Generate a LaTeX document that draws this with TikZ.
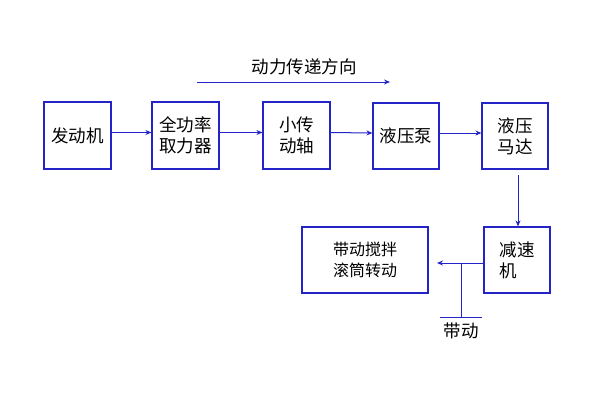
\documentclass[tikz,border=0pt]{standalone}
\usepackage{fontspec}
\newfontfamily\cjk{Noto Sans CJK SC}
\usetikzlibrary{arrows.meta}
\definecolor{lineblue}{RGB}{35,35,200}
\begin{document}
\begin{tikzpicture}[x=1pt,y=-1pt,
  box/.style={draw=lineblue,line width=1.2pt,inner sep=0pt,align=center,font=\cjk\fontsize{17.5}{21}\selectfont},
  conn/.style={draw=lineblue,line width=1pt,-{Stealth[length=6pt,width=5pt]}},
  plain/.style={draw=lineblue,line width=1pt}]
\useasboundingbox (0,0) rectangle (600,402);
\fill[white] (0,0) rectangle (600,402);
\node[box,minimum width=67pt,minimum height=67pt] (a) at (77.5,135.5) {发动机};
\node[box,minimum width=67pt,minimum height=67pt] (b) at (185.5,135.5) {全功率\\取力器};
\node[box,minimum width=67pt,minimum height=67pt] (c) at (296.5,135.5) {小传\\动轴};
\node[box,minimum width=66pt,minimum height=66pt] (d) at (406,136) {液压泵};
\node[box,minimum width=66pt,minimum height=66pt] (e) at (515,136) {液压\\马达};
\node[box,minimum width=66pt,minimum height=66pt,align=left] (f) at (517,260) {减速\\机\hspace*{17.5pt}};
\node[box,minimum width=126pt,minimum height=66pt,font=\cjk\fontsize{16}{21}\selectfont] (g) at (365,260) {带动搅拌\\滚筒转动};
\node[font=\cjk\fontsize{17.5}{21}\selectfont] (t) at (304,67) {动力传递方向};
\coordinate (t1) at (197,82);
\coordinate (t2) at (390,82);
\draw[conn] (t1) -- (t2);
\draw[conn] ([yshift=3pt]a.east) -- ([yshift=3pt]b.west);
\draw[conn] ([yshift=3pt]b.east) -- ([yshift=3pt]c.west);
\draw[conn] ([yshift=3pt]c.east) -- ([yshift=3pt]d.west);
\draw[conn] ([yshift=3pt]d.east) -- ([yshift=3pt]e.west);
\coordinate (e1) at (518,175);
\draw[conn] (e1) -- (f.north -| e1);
\coordinate (g1) at (437,263);
\draw[conn] (f.west |- g1) -- (g1);
\coordinate (j) at (461,263);
\coordinate (k) at (461,317);
\draw[plain] (j) -- (k);
\coordinate (k1) at (440,317);
\coordinate (k2) at (482,317);
\draw[plain] (k1) -- (k2);
\node[font=\cjk\fontsize{17.5}{21}\selectfont] (lbl) at (461,331) {带动};
\end{tikzpicture}
\end{document}
